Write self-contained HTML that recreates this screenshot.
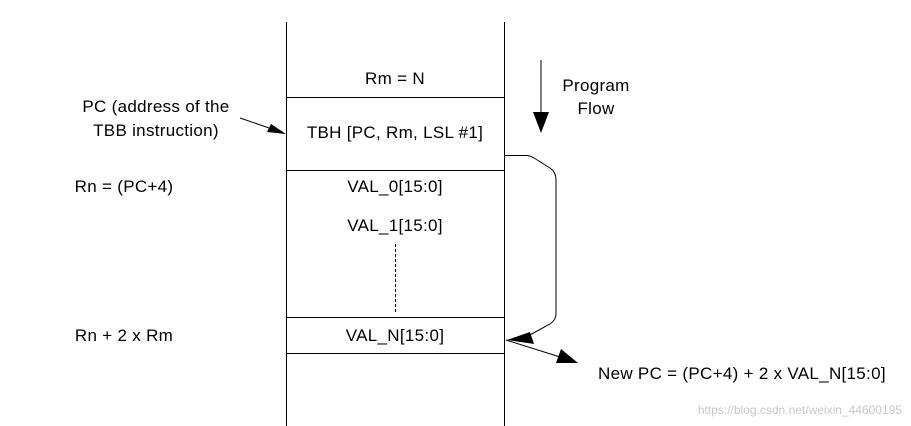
<!DOCTYPE html>
<html><head><meta charset="utf-8"><style>
html,body{margin:0;padding:0;background:#fff;}
svg{display:block;}
text{font-family:"Liberation Sans",sans-serif;font-size:17px;letter-spacing:0.3px;fill:#000;}
</style></head><body>
<svg width="911" height="426" viewBox="0 0 911 426" xmlns="http://www.w3.org/2000/svg">
<g stroke="#000" stroke-width="1" fill="none">
<line x1="286.5" y1="22" x2="286.5" y2="426"/>
<line x1="504.5" y1="22" x2="504.5" y2="426"/>
<line x1="286" y1="97.5" x2="505" y2="97.5"/>
<line x1="286" y1="170.5" x2="505" y2="170.5"/>
<line x1="286" y1="317.5" x2="505" y2="317.5"/>
<line x1="286" y1="353.5" x2="505" y2="353.5"/>
<line x1="395.5" y1="244" x2="395.5" y2="313" stroke-dasharray="3,2"/>
<line x1="541" y1="60" x2="541" y2="115"/>
<path d="M505 155.5 L526 155.5 Q530 155.5 534 158 L550 168 Q556 172 556 180 L556 314 Q556 320 550 324 L528 336"/>
<line x1="240" y1="118" x2="272" y2="129"/>
<line x1="506" y1="340" x2="560" y2="357"/>
</g>
<g fill="#000">
<polygon points="533,112 549,112 541,133"/>
<polygon points="507,340 530,332 534,344"/>
<polygon points="286,134 267,132 271,124"/>
<polygon points="578,363 556,363 561,349"/>
</g>
<text x="395" y="84" text-anchor="middle">Rm = N</text>
<text x="395" y="138" text-anchor="middle">TBH [PC, Rm, LSL #1]</text>
<text x="395" y="192" text-anchor="middle">VAL_0[15:0]</text>
<text x="395" y="231" text-anchor="middle">VAL_1[15:0]</text>
<text x="395" y="341" text-anchor="middle">VAL_N[15:0]</text>
<text x="156" y="112" text-anchor="middle">PC (address of the</text>
<text x="156" y="136" text-anchor="middle">TBB instruction)</text>
<text x="124" y="192" text-anchor="middle">Rn = (PC+4)</text>
<text x="124" y="341" text-anchor="middle">Rn + 2 x Rm</text>
<text x="596" y="91" text-anchor="middle">Program</text>
<text x="596" y="114" text-anchor="middle">Flow</text>
<text x="598" y="379">New PC = (PC+4) + 2 x VAL_N[15:0]</text>
<text x="902" y="414" text-anchor="end" style="font-size:12px;letter-spacing:0;fill:#c8c8c8;">https://blog.csdn.net/weixin_44600195</text>
</svg>
</body></html>
